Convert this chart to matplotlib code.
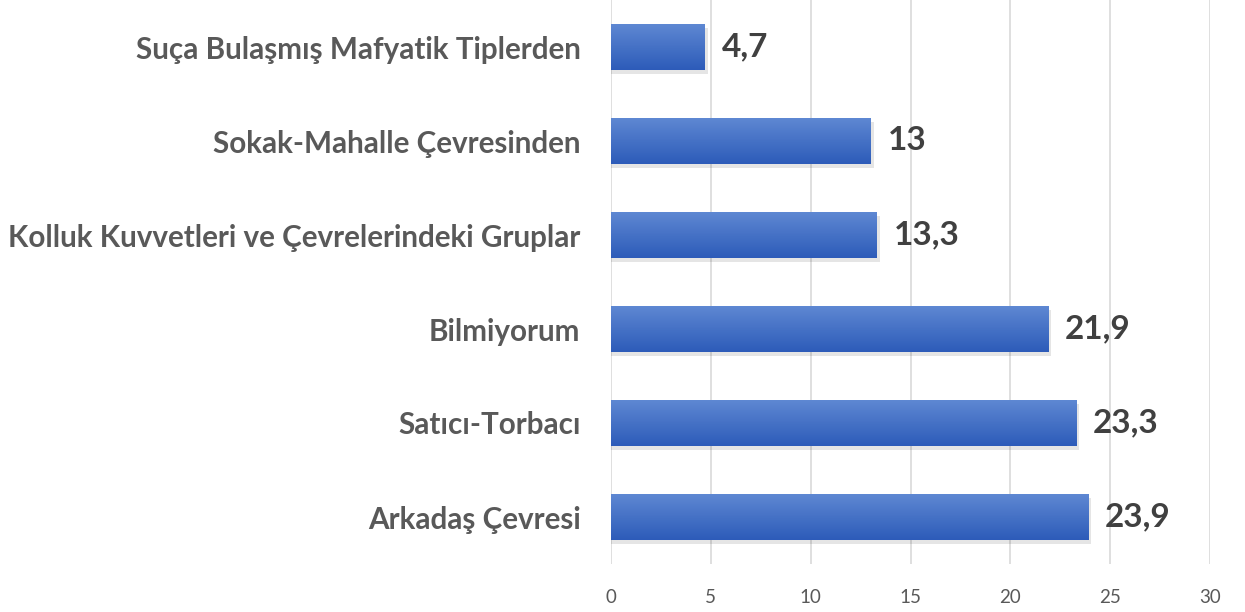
import matplotlib.pyplot as plt
import numpy as np
from matplotlib.colors import LinearSegmentedColormap

plt.rcParams['font.family'] = ['Lato', 'DejaVu Sans']

# Data (bottom to top)
categories = ["Arkadaş Çevresi", "Satıcı-Torbacı", "Bilmiyorum",
              "Kolluk Kuvvetleri ve Çevrelerindeki Gruplar",
              "Sokak-Mahalle Çevresinden", "Suça Bulaşmış Mafyatik Tiplerden"]
values = [23.9, 23.3, 21.9, 13.3, 13, 4.7]
value_labels = ["23,9", "23,3", "21,9", "13,3", "13", "4,7"]
xticks = [0, 5, 10, 15, 20, 25, 30]

fig = plt.figure(figsize=(12.45, 6.12), dpi=100)
ax = fig.add_axes([611/1245, 48/612, 599/1245, 564/612])

y = np.arange(len(categories))
bars = ax.barh(y, values, height=0.49, color="#4472C4", zorder=3)

# gradient fill + soft shadow like the office chart
grad = np.linspace(0, 1, 100).reshape(-1, 1)
cmap = LinearSegmentedColormap.from_list("bl", ["#5F89D3", "#2D5BB9"])
for b in bars:
    x0, y0, w, h = b.get_x(), b.get_y(), b.get_width(), b.get_height()
    ax.barh(y0 + h/2 - 0.04, w + 0.15, height=h, left=x0, color="#000000",
            alpha=0.10, zorder=2)
    im = ax.imshow(grad, cmap=cmap, aspect='auto', extent=[x0, x0 + w, y0, y0 + h],
                   zorder=4, origin='upper')
    im.set_clip_path(b)

for yi, v, lab in zip(y, values, value_labels):
    ax.text(v + 0.85, yi, lab, va='center', ha='left', fontsize=24,
            fontweight='bold', color='#404040')

ax.set_xlim(0, 30)
ax.set_ylim(-0.5, 5.5)
ax.set_xticks(xticks)
ax.set_yticks(y)
ax.set_yticklabels(categories, fontsize=21.3, fontweight='bold', color='#595959')
ax.tick_params(axis='x', length=0, labelsize=13.5, labelcolor='#595959', pad=18)
ax.tick_params(axis='y', length=0, pad=22)
ax.grid(axis='x', color='#D9D9D9', linewidth=1.2, zorder=0)
for s in ax.spines.values():
    s.set_visible(False)

fig.savefig("out.png", dpi=100)
